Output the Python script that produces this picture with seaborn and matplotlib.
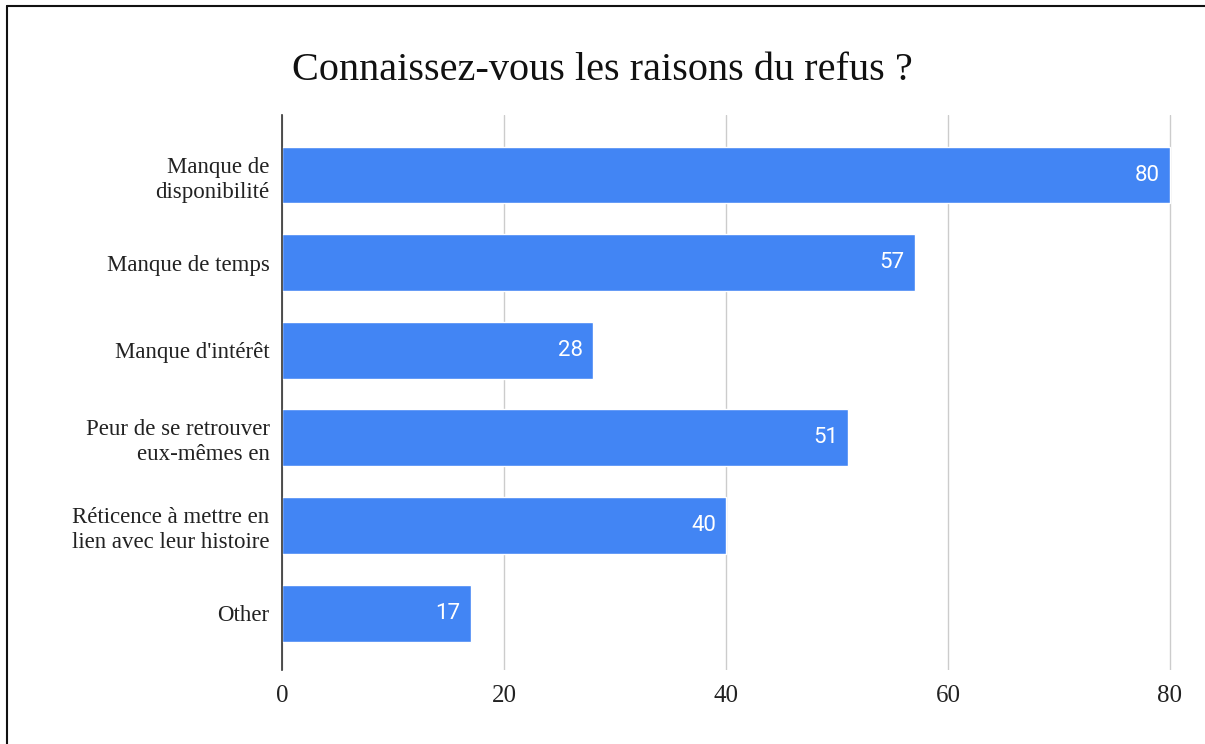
import matplotlib
matplotlib.use("Agg")
import matplotlib.pyplot as plt
import seaborn as sns
import pandas as pd
from matplotlib.lines import Line2D

categories = ["Manque de\ndisponibilité", "Manque de temps", "Manque d'intérêt",
              "Peur de se retrouver\neux-mêmes en", "Réticence à mettre en\nlien avec leur histoire", "Other"]
values = [80, 57, 28, 51, 40, 17]
xticks = [0, 20, 40, 60, 80]
title = "Connaissez-vous les raisons du refus ?"

df = pd.DataFrame({"cat": categories, "val": values})

sns.set_theme(style="white")
plt.rcParams['font.family'] = ['Liberation Serif', 'DejaVu Serif']

fig = plt.figure(figsize=(12.05, 7.44), dpi=100)
W, H = 1205, 744
x0, x80 = 282, 1170
xmax = 81
ax = fig.add_axes([x0 / W, 1 - 670 / H, (x80 - x0) * xmax / 80 / W, (670 - 115) / H])

sns.barplot(data=df, x="val", y="cat", orient="h", color="#4285F4", width=0.65,
            saturation=1, ax=ax, zorder=3)

ax.set_xlim(0, xmax)
ax.set_ylim(5 + 0.65, -0.685)
ax.set_xticks(xticks)
ax.set_xlabel("")
ax.set_ylabel("")
ax.grid(axis="x", color="#cccccc", linewidth=1, zorder=0)
ax.grid(axis="y", visible=False)
for s in ["top", "right", "bottom"]:
    ax.spines[s].set_visible(False)
ax.spines["left"].set_color("#333333")
ax.spines["left"].set_linewidth(1.2)
ax.spines["left"].set_zorder(4)
ax.tick_params(axis="y", length=0, labelsize=16.5, colors="#222222", pad=9)
ax.tick_params(axis="x", length=0, labelsize=18, colors="#222222", pad=11)
for lab in ax.get_yticklabels():
    lab.set_horizontalalignment("right")
    lab.set_multialignment("right")
    lab.set_linespacing(1.25)

for i, v in enumerate(values):
    ax.text(v - 0.9, i, str(v), color="white", ha="right", va="center",
            fontsize=16, family=["Roboto", "DejaVu Sans"], zorder=5)

fig.text(0.5, 1 - 70 / H, title, ha="center", va="center", fontsize=29, color="#111111")

# partial frame (top and left)
fig.add_artist(Line2D([7 / W, 1], [1 - 6 / H, 1 - 6 / H], transform=fig.transFigure, color="#111111", lw=1.5))
fig.add_artist(Line2D([7 / W, 7 / W], [0, 1 - 6 / H], transform=fig.transFigure, color="#111111", lw=1.5))

fig.savefig("out.png", dpi=100, facecolor="white")
